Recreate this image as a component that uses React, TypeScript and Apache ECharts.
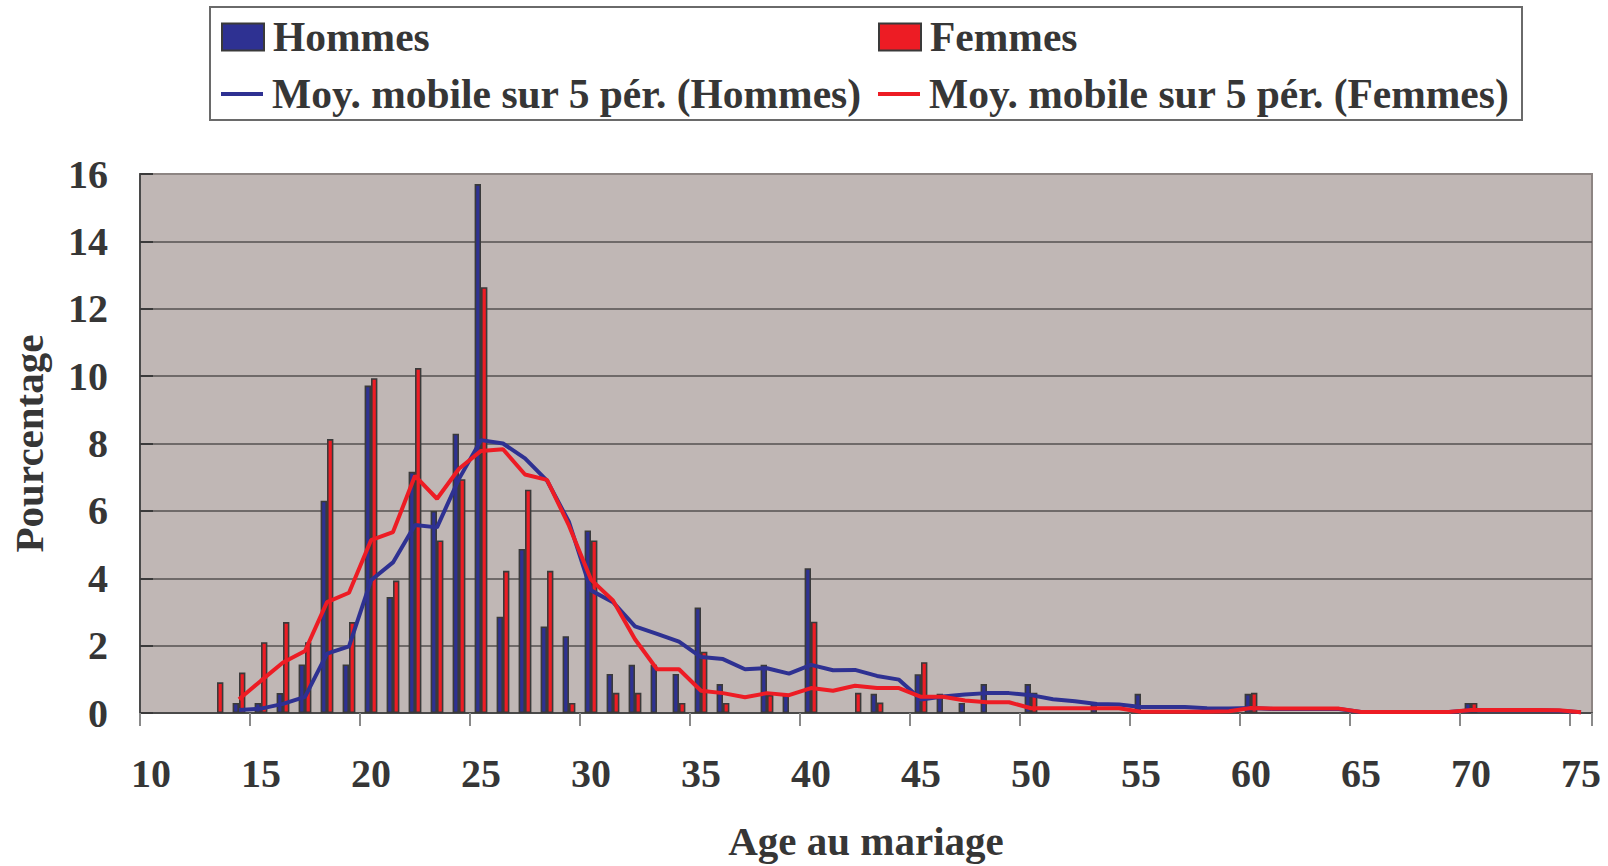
import React, { useEffect, useRef } from "react";
import * as echarts from "echarts";

const ages = [
  "10", "11", "12", "13", "14", "15", "16", "17", "18", "19",
  "20", "21", "22", "23", "24", "25", "26", "27", "28", "29",
  "30", "31", "32", "33", "34", "35", "36", "37", "38", "39",
  "40", "41", "42", "43", "44", "45", "46", "47", "48", "49",
  "50", "51", "52", "53", "54", "55", "56", "57", "58", "59",
  "60", "61", "62", "63", "64", "65", "66", "67", "68", "69",
  "70", "71", "72", "73", "74", "75",
];

const hommes = [
  0, 0, 0, 0, 0.3, 0.3, 0.59, 1.44, 6.3, 1.44,
  9.72, 3.44, 7.16, 6.0, 8.29, 15.7, 2.86, 4.87, 2.57, 2.28,
  5.42, 1.16, 1.43, 1.43, 1.16, 3.13, 0.86, 0, 1.43, 0.52,
  4.3, 0, 0, 0.57, 0, 1.15, 0.57, 0.3, 0.86, 0,
  0.86, 0, 0, 0.28, 0, 0.57, 0, 0, 0, 0,
  0.57, 0, 0, 0, 0, 0, 0, 0, 0, 0,
  0.3, 0, 0, 0, 0, 0,
];

const femmes = [
  0, 0, 0, 0.91, 1.2, 2.1, 2.7, 2.1, 8.13, 2.7,
  9.94, 3.93, 10.24, 5.12, 6.94, 12.64, 4.22, 6.63, 4.22, 0.3,
  5.12, 0.6, 0.6, 0, 0.3, 1.82, 0.3, 0, 0.54, 0,
  2.71, 0, 0.6, 0.31, 0, 1.51, 0, 0, 0, 0,
  0.6, 0, 0, 0, 0, 0, 0, 0, 0, 0,
  0.6, 0, 0, 0, 0, 0, 0, 0, 0, 0,
  0.3, 0, 0, 0, 0, 0,
];

const moyHommes = [
  null, null, null, null, 0.09, 0.13, 0.27, 0.48, 1.76, 1.98,
  3.94, 4.47, 5.58, 5.51, 6.95, 8.1, 8.0, 7.56, 6.9, 5.67,
  3.64, 3.29, 2.57, 2.35, 2.12, 1.66, 1.6, 1.3, 1.33, 1.17,
  1.43, 1.27, 1.28, 1.1, 0.99, 0.4, 0.49, 0.55, 0.59, 0.59,
  0.53, 0.41, 0.35, 0.27, 0.25, 0.18, 0.18, 0.18, 0.14, 0.13,
  0.15, 0.12, 0.12, 0.12, 0.12, 0.03, 0.03, 0.03, 0.03, 0.03,
  0.08, 0.08, 0.08, 0.08, 0.07, 0.02,
];

const moyFemmes = [
  null, null, null, null, 0.41, 0.96, 1.5, 1.84, 3.29, 3.57,
  5.13, 5.37, 7.04, 6.36, 7.25, 7.78, 7.83, 7.08, 6.92, 5.56,
  3.96, 3.34, 2.19, 1.3, 1.3, 0.66, 0.59, 0.47, 0.59, 0.53,
  0.74, 0.66, 0.81, 0.74, 0.74, 0.48, 0.48, 0.37, 0.32, 0.32,
  0.14, 0.14, 0.14, 0.14, 0.14, 0.04, 0.04, 0.04, 0.04, 0.05,
  0.15, 0.13, 0.13, 0.13, 0.13, 0.03, 0.03, 0.03, 0.03, 0.03,
  0.09, 0.09, 0.09, 0.09, 0.08, 0.02,
];

const NAME_H = "Hommes";
const NAME_F = "Femmes";
const NAME_MH = "Moy. mobile sur 5 pér. (Hommes)";
const NAME_MF = "Moy. mobile sur 5 pér. (Femmes)";

const BLUE = "#2e3192";
const RED = "#ed1c24";
const TEXT = "#363636";
const FONT = "'Liberation Serif', 'Times New Roman', serif";

const txt = { fontFamily: FONT, fontWeight: "bold" as const, fontSize: 40, color: TEXT };

export default function App() {
  const ref = useRef<HTMLDivElement>(null);
  useEffect(() => {
    const chart = echarts.init(ref.current!, null, { renderer: "svg" });
    const legendBase = {
      orient: "horizontal" as const,
      padding: 0,
      itemWidth: 42,
      selectedMode: false,
      textStyle: { ...txt, fontSize: 41.5, lineHeight: 40, padding: [0, 0, 0, 4] },
    };
    chart.setOption({
      animation: false,
      backgroundColor: "#ffffff",
      graphic: [
        {
          type: "rect",
          shape: { x: 210, y: 7, width: 1312, height: 113 },
          style: { fill: "#ffffff", stroke: "#6a6a6a", lineWidth: 2 },
          z: -1,
        },
      ],
      legend: [
        {
          ...legendBase, data: [NAME_H], left: 221, top: 16, itemHeight: 27, icon: "rect",
          itemStyle: { borderColor: "#3a3a3a", borderWidth: 2 },
        },
        {
          ...legendBase, data: [NAME_F], left: 878, top: 16, itemHeight: 27, icon: "rect",
          itemStyle: { borderColor: "#3a3a3a", borderWidth: 2 },
        },
        { ...legendBase, data: [NAME_MH], left: 221, top: 73, itemHeight: 4, icon: "rect", itemStyle: { borderWidth: 0 } },
        { ...legendBase, data: [NAME_MF], left: 878, top: 73, itemHeight: 4, icon: "rect", itemStyle: { borderWidth: 0 } },
      ],
      grid: {
        left: 140,
        right: 16,
        top: 174,
        bottom: 150,
        show: true,
        backgroundColor: "#c0b7b5",
        borderColor: "#8d8583",
        borderWidth: 2,
      },
      xAxis: {
        type: "category",
        data: ages,
        boundaryGap: true,
        name: "Age au mariage",
        nameLocation: "middle",
        nameGap: 107,
        nameTextStyle: { ...txt, fontSize: 41 },
        axisLine: { show: true, lineStyle: { color: "#4a4a4a", width: 2 } },
        axisTick: { show: true, interval: 4, length: 13, lineStyle: { color: "#8a8a8a", width: 2 } },
        axisLabel: { interval: 4, margin: 40, ...txt },
        splitLine: { show: false },
      },
      yAxis: {
        type: "value",
        min: 0,
        max: 16,
        interval: 2,
        name: "Pourcentage",
        nameLocation: "middle",
        nameGap: 91,
        nameRotate: 90,
        nameTextStyle: { ...txt, fontSize: 41 },
        axisLine: { show: true, lineStyle: { color: "#4a4a4a", width: 2 } },
        axisTick: { show: true, inside: true, length: 13, lineStyle: { color: "#3a3a3a", width: 2 } },
        axisLabel: { margin: 32, ...txt },
        splitLine: { show: true, showMaxLine: false, lineStyle: { color: "#555050", width: 1.5 } },
      },
      series: [
        {
          name: NAME_H,
          type: "bar",
          data: hommes.map((v) => (v === 0 ? "-" : v)),
          barWidth: 6.4,
          barGap: "0%",
          itemStyle: { color: BLUE, borderColor: "#3a3a3a", borderWidth: 1.6 },
          z: 2,
        },
        {
          name: NAME_F,
          type: "bar",
          data: femmes.map((v) => (v === 0 ? "-" : v)),
          barWidth: 6.4,
          barGap: "0%",
          itemStyle: { color: RED, borderColor: "#3a3a3a", borderWidth: 1.6 },
          z: 2,
        },
        {
          name: NAME_MH,
          type: "line",
          data: moyHommes,
          showSymbol: false,
          symbol: "none",
          connectNulls: false,
          lineStyle: { color: BLUE, width: 4 },
          itemStyle: { color: BLUE },
          z: 3,
        },
        {
          name: NAME_MF,
          type: "line",
          data: moyFemmes,
          showSymbol: false,
          symbol: "none",
          connectNulls: false,
          lineStyle: { color: RED, width: 4 },
          itemStyle: { color: RED },
          z: 4,
        },
      ],
    });
    return () => chart.dispose();
  }, []);
  return (
    <div
      ref={ref}
      style={{ position: "absolute", left: 0, top: 0, width: 1608, height: 866 }}
    />
  );
}
